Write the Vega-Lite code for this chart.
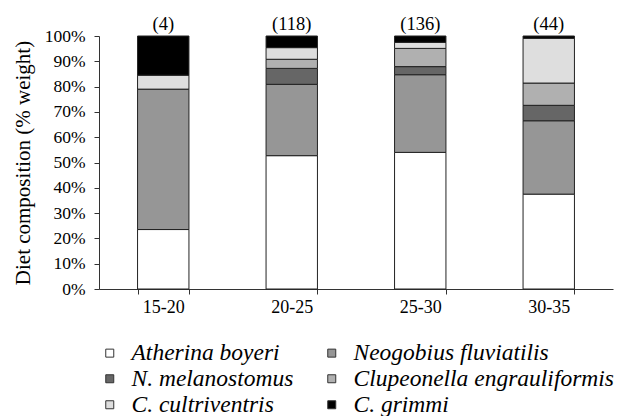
{
  "$schema": "https://vega.github.io/schema/vega-lite/v6.json",
  "width": 514,
  "height": 253,
  "autosize": "none",
  "padding": {"left": 99, "top": 36, "right": 9, "bottom": 127},
  "background": "white",
  "config": {
    "view": {"stroke": null},
    "font": "Liberation Serif",
    "legend": {"padding": 0},
    "axis": {"grid": false, "domainColor": "#333", "tickColor": "#333", "labelColor": "#000", "titleColor": "#000", "labelFont": "Liberation Serif", "titleFont": "Liberation Serif", "titleFontWeight": "normal"},
    "axisY": {"tickCount": 10, "labelOverlap": false, "ticks": true}
  },
  "layer": [
    {
      "data": {"values": [
        {"size": "15-20", "prey": "Atherina boyeri", "pct": 23.5},
        {"size": "15-20", "prey": "Neogobius fluviatilis", "pct": 55.5},
        {"size": "15-20", "prey": "N. melanostomus", "pct": 0},
        {"size": "15-20", "prey": "Clupeonella engrauliformis", "pct": 0},
        {"size": "15-20", "prey": "C. cultriventris", "pct": 5.5},
        {"size": "15-20", "prey": "C. grimmi", "pct": 15.5},
        {"size": "20-25", "prey": "Atherina boyeri", "pct": 52.7},
        {"size": "20-25", "prey": "Neogobius fluviatilis", "pct": 28.2},
        {"size": "20-25", "prey": "N. melanostomus", "pct": 6.3},
        {"size": "20-25", "prey": "Clupeonella engrauliformis", "pct": 3.6},
        {"size": "20-25", "prey": "C. cultriventris", "pct": 4.6},
        {"size": "20-25", "prey": "C. grimmi", "pct": 4.6},
        {"size": "25-30", "prey": "Atherina boyeri", "pct": 54.0},
        {"size": "25-30", "prey": "Neogobius fluviatilis", "pct": 30.7},
        {"size": "25-30", "prey": "N. melanostomus", "pct": 3.2},
        {"size": "25-30", "prey": "Clupeonella engrauliformis", "pct": 7.2},
        {"size": "25-30", "prey": "C. cultriventris", "pct": 2.4},
        {"size": "25-30", "prey": "C. grimmi", "pct": 2.5},
        {"size": "30-35", "prey": "Atherina boyeri", "pct": 37.5},
        {"size": "30-35", "prey": "Neogobius fluviatilis", "pct": 29.0},
        {"size": "30-35", "prey": "N. melanostomus", "pct": 6.1},
        {"size": "30-35", "prey": "Clupeonella engrauliformis", "pct": 8.8},
        {"size": "30-35", "prey": "C. cultriventris", "pct": 17.7},
        {"size": "30-35", "prey": "C. grimmi", "pct": 0.9}
      ]},
      "transform": [
        {"calculate": "indexof(['Atherina boyeri', 'Neogobius fluviatilis', 'N. melanostomus', 'Clupeonella engrauliformis', 'C. cultriventris', 'C. grimmi'], datum.prey)", "as": "stackOrder"}
      ],
      "mark": {"type": "bar", "stroke": "#222", "strokeWidth": 1},
      "encoding": {
        "x": {"field": "size", "type": "nominal", "sort": null,
          "scale": {"paddingInner": 0.6, "paddingOuter": 0.3},
          "axis": {"title": null, "labelAngle": 0, "labelFontSize": 18, "tickBand": "extent", "tickSize": 5, "labelPadding": 4}},
        "y": {"field": "pct", "type": "quantitative", "stack": "zero",
          "scale": {"domain": [0, 100], "nice": false},
          "axis": {"title": "Diet composition (% weight)", "tickCount": 10, "labelExpr": "datum.value + '%'", "labelOverlap": false, "labelFontSize": 17.5, "titleFontSize": 21, "tickSize": 5, "labelPadding": 9, "titlePadding": 11}},
        "color": {"field": "prey", "type": "nominal",
          "sort": ["Atherina boyeri", "Neogobius fluviatilis", "N. melanostomus", "Clupeonella engrauliformis", "C. cultriventris", "C. grimmi"],
          "scale": {"domain": ["Atherina boyeri", "Neogobius fluviatilis", "N. melanostomus", "Clupeonella engrauliformis", "C. cultriventris", "C. grimmi"],
            "range": ["#ffffff", "#969696", "#666666", "#b0b0b0", "#dedede", "#000000"]},
          "legend": {"title": null, "orient": "none", "legendX": -1, "legendY": 305, "columns": 2, "direction": "horizontal", "columnPadding": 26, "rowPadding": 1,
            "symbolType": "square", "symbolSize": 64, "symbolStrokeColor": "#333", "symbolStrokeWidth": 1, "symbolOpacity": 1,
            "labelFont": "Liberation Serif", "labelFontStyle": "italic", "labelFontSize": 23.5, "labelColor": "#000", "labelLimit": 400, "labelOffset": 10}},
        "order": {"field": "stackOrder", "type": "quantitative", "sort": "ascending"}
      }
    },
    {
      "data": {"values": [
        {"size": "15-20", "n": "(4)"},
        {"size": "20-25", "n": "(118)"},
        {"size": "25-30", "n": "(136)"},
        {"size": "30-35", "n": "(44)"}
      ]},
      "mark": {"type": "text", "fontSize": 18.5, "font": "Liberation Serif", "dy": -12, "color": "#000"},
      "encoding": {
        "x": {"field": "size", "type": "nominal", "sort": null},
        "y": {"datum": 100, "type": "quantitative"},
        "text": {"field": "n"}
      }
    }
  ]
}
